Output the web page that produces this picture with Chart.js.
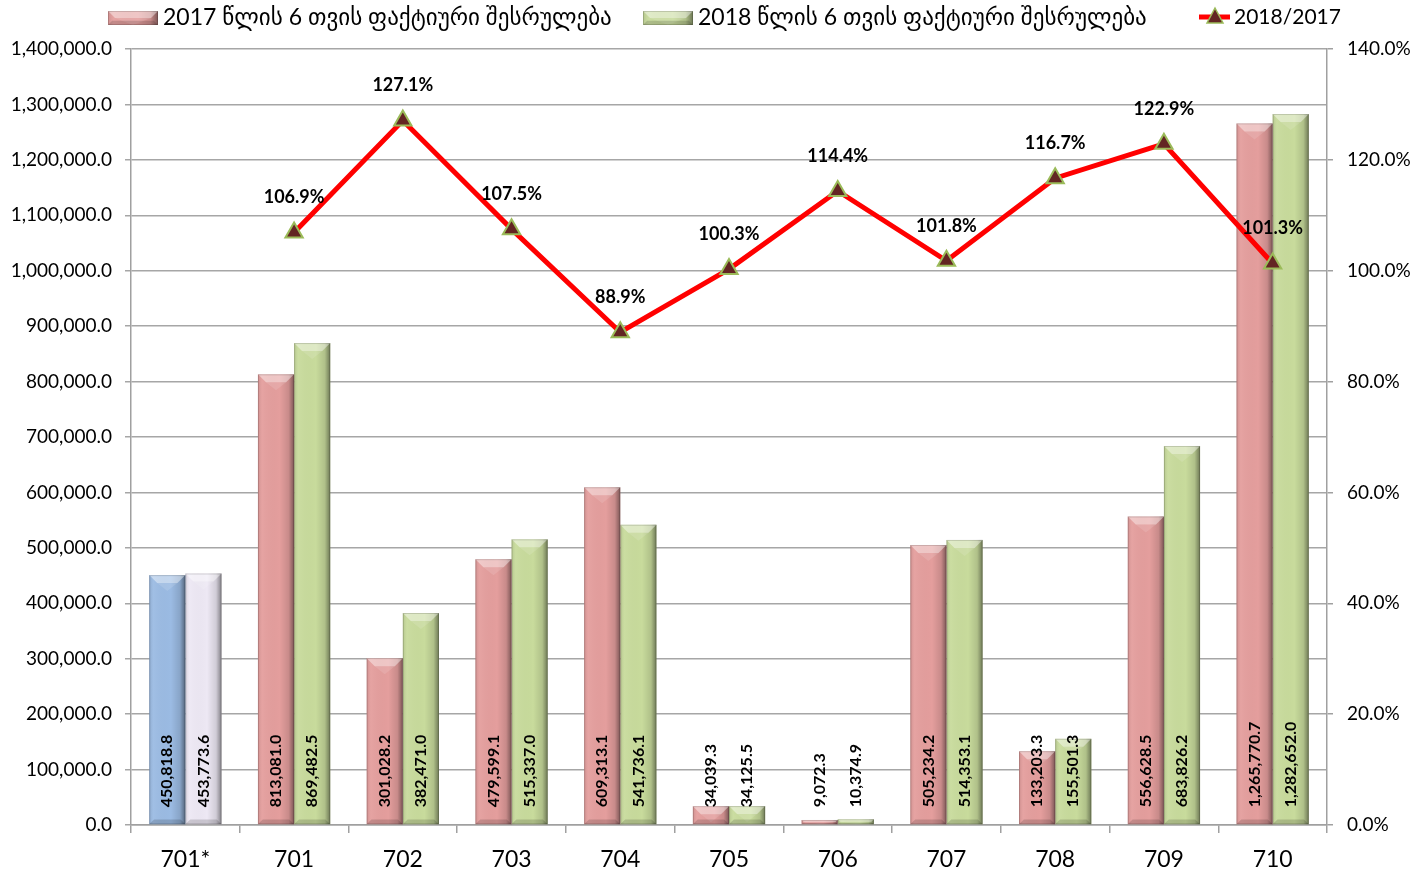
<!DOCTYPE html>
<html><head><meta charset="utf-8">
<script src="https://cdn.jsdelivr.net/npm/chart.js@4"></script>
<style>html,body{margin:0;padding:0;background:#fff}</style>
</head><body>
<canvas id="c" width="1426" height="875"></canvas>
<script>
const categories = ['701*','701','702','703','704','705','706','707','708','709','710'];
const values2017 = [450818.8, 813081.0, 301028.2, 479599.1, 609313.1, 34039.3, 9072.3, 505234.2, 133203.3, 556628.5, 1265770.7];
const values2018 = [453773.6, 869482.5, 382471.0, 515337.0, 541736.1, 34125.5, 10374.9, 514353.1, 155501.3, 683826.2, 1282652.0];
const ratio = [null, 106.9, 127.1, 107.5, 88.9, 100.3, 114.4, 101.8, 116.7, 122.9, 101.3];
const seriesNames = ['2017 წლის 6 თვის ფაქტიური შესრულება','2018 წლის 6 თვის ფაქტიური შესრულება','2018/2017'];

const FONT = "Lato, 'DejaVu Sans', sans-serif";
const PINK = '#e49e9d', GREEN = '#c8db9c', BLUE = '#9bbbe3', LAV = '#ede8f4';
const fmt = v => v.toLocaleString('en-US',{minimumFractionDigits:1,maximumFractionDigits:1});

function bevelRect(ctx,l,t,w,h){
  const r=l+w,b=t+h;
  const bv=Math.max(0,Math.min(8,h/2,w/4));
  const g=ctx.createLinearGradient(l,0,r,0);
  g.addColorStop(0,'rgba(0,0,0,0.10)');
  g.addColorStop(0.12,'rgba(255,255,255,0.05)');
  g.addColorStop(0.6,'rgba(0,0,0,0)');
  g.addColorStop(0.85,'rgba(0,0,0,0.12)');
  g.addColorStop(1,'rgba(0,0,0,0.45)');
  ctx.fillStyle=g; ctx.fillRect(l,t,w,h);
  ctx.beginPath();ctx.moveTo(l,t);ctx.lineTo(r,t);ctx.lineTo(r-bv,t+bv);ctx.lineTo(l+bv,t+bv);ctx.closePath();
  ctx.fillStyle='rgba(255,255,255,0.42)';ctx.fill();
  ctx.beginPath();ctx.moveTo(l+bv,t+bv);ctx.lineTo(r-bv,t+bv);ctx.lineTo(l+w/2,t+bv+Math.min(bv,h-bv));ctx.closePath();
  ctx.fillStyle='rgba(255,255,255,0.12)';ctx.fill();
  ctx.beginPath();ctx.moveTo(l,b);ctx.lineTo(l+bv*0.6,b-bv*0.6);ctx.lineTo(r-bv*0.6,b-bv*0.6);ctx.lineTo(r,b);ctx.closePath();
  ctx.fillStyle='rgba(0,0,0,0.15)';ctx.fill();
  ctx.strokeStyle='rgba(0,0,0,0.15)';ctx.lineWidth=1;ctx.strokeRect(l+0.5,t+0.5,w-1,h-1);
}

const bevelPlugin = {
  id:'bevel',
  afterDatasetDraw(chart,args){
    const ds=chart.data.datasets[args.index];
    if(ds.type==='line')return;
    const ctx=chart.ctx;ctx.save();
    args.meta.data.forEach(bar=>{
      const p=bar.getProps(['x','y','base','width'],true);
      const l=p.x-p.width/2,t=Math.min(p.y,p.base),h=Math.abs(p.base-p.y);
      if(h>0)bevelRect(ctx,l,t,p.width,h);
    });
    ctx.restore();
  }
};

const labelPlugin = {
  id:'labels',
  afterDatasetsDraw(chart){
    const ctx=chart.ctx;ctx.save();
    chart.data.datasets.forEach((ds,di)=>{
      const meta=chart.getDatasetMeta(di);
      if(ds.type==='line'){
        ctx.font='bold 18px '+FONT;ctx.fillStyle='#000';ctx.textAlign='center';ctx.textBaseline='middle';
        meta.data.forEach((pt,i)=>{ if(ds.data[i]==null)return; ctx.fillText(ds.data[i].toFixed(1)+'%',pt.x,pt.y-35);});
      } else {
        ctx.font='bold 16px '+FONT;ctx.fillStyle='#000';ctx.textAlign='left';ctx.textBaseline='middle';
        meta.data.forEach((bar,i)=>{
          const p=bar.getProps(['x','base'],true);
          ctx.save();ctx.translate(p.x,p.base-17);ctx.rotate(-Math.PI/2);
          ctx.fillText(fmt(ds.data[i]),0,0);ctx.restore();
        });
      }
    });
    ctx.restore();
  }
};

const legendPlugin = {
  id:'customLegend',
  afterDraw(chart){
    const ctx=chart.ctx;ctx.save();
    const fitText=(txt,x,target)=>{
      ctx.font='20px '+FONT;
      const w=ctx.measureText(txt).width;
      const s=Math.min(24,20*target/w);
      ctx.font=s+'px '+FONT;
      ctx.fillStyle='#000';ctx.textAlign='left';ctx.textBaseline='middle';
      ctx.fillText(txt,x,18);
    };
    ctx.fillStyle=PINK;ctx.fillRect(108,11,50,14);bevelRect(ctx,108,11,50,14);
    fitText(seriesNames[0],163,449);
    ctx.fillStyle=GREEN;ctx.fillRect(643,11,50,14);bevelRect(ctx,643,11,50,14);
    fitText(seriesNames[1],698,449);
    ctx.strokeStyle='#ff0000';ctx.lineWidth=5;ctx.beginPath();ctx.moveTo(1199,17);ctx.lineTo(1230,17);ctx.stroke();
    ctx.beginPath();ctx.moveTo(1215,8);ctx.lineTo(1223,23);ctx.lineTo(1207,23);ctx.closePath();
    ctx.fillStyle='#632523';ctx.fill();ctx.strokeStyle='#9bbb59';ctx.lineWidth=1.5;ctx.stroke();
    ctx.font='21px '+FONT;ctx.fillStyle='#000';ctx.textAlign='left';ctx.textBaseline='middle';ctx.fillText(seriesNames[2],1234,17);
    ctx.restore();
  }
};

new Chart(document.getElementById('c'),{
  data:{
    labels:categories,
    datasets:[
      {type:'line',label:seriesNames[2],data:ratio,yAxisID:'y1',order:0,borderColor:'#ff0000',borderWidth:5,
       pointStyle:'triangle',pointRadius:10,pointBackgroundColor:'#632523',pointBorderColor:'#9bbb59',pointBorderWidth:2,spanGaps:false,tension:0},
      {type:'bar',label:seriesNames[0],data:values2017,yAxisID:'y',order:1,
       backgroundColor:categories.map((c,i)=>i===0?BLUE:PINK),barPercentage:1,categoryPercentage:0.665},
      {type:'bar',label:seriesNames[1],data:values2018,yAxisID:'y',order:1,
       backgroundColor:categories.map((c,i)=>i===0?LAV:GREEN),barPercentage:1,categoryPercentage:0.665}
    ]
  },
  options:{
    responsive:false,animation:false,
    layout:{padding:{top:49,bottom:0,left:0,right:0}},
    plugins:{legend:{display:false},tooltip:{enabled:false}},
    scales:{
      x:{grid:{offset:true,drawOnChartArea:false,tickLength:8,color:'#a0a0a0',lineWidth:1.5},
         border:{color:'#a0a0a0',width:1.5},
         ticks:{font:{family:FONT,size:23},color:'#000',padding:13,maxRotation:0},
         afterFit(s){s.height=50;}},
      y:{position:'left',min:0,max:1400000,
         ticks:{stepSize:100000,font:{family:FONT,size:19},color:'#000',padding:13,callback:v=>fmt(v)},
         grid:{color:'#a6a6a6',lineWidth:1.5,tickLength:6},
         border:{color:'#a0a0a0',width:1.5},
         afterFit(s){s.width=131;}},
      y1:{position:'right',min:0,max:140,
         ticks:{stepSize:20,font:{family:FONT,size:19},color:'#000',padding:14,callback:v=>v.toFixed(1)+'%'},
         grid:{drawOnChartArea:false,color:'#a0a0a0',lineWidth:1.5,tickLength:6},
         border:{color:'#a0a0a0',width:1.5},
         afterFit(s){s.width=99;}}
    }
  },
  plugins:[bevelPlugin,labelPlugin,legendPlugin]
});
</script>
</body></html>
